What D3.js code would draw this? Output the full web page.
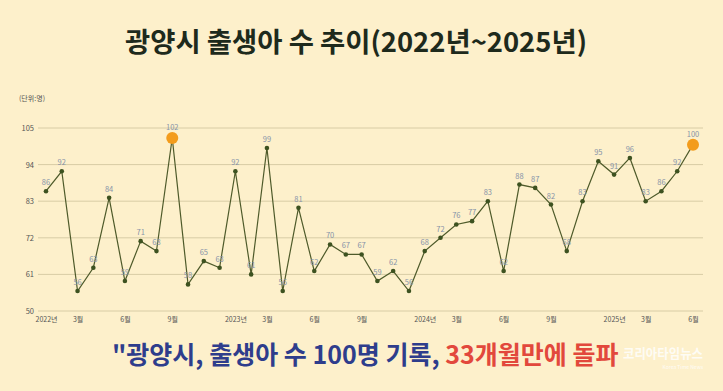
<!DOCTYPE html>
<html><head><meta charset="utf-8">
<script src="https://cdn.jsdelivr.net/npm/d3@7"></script>
<style>
html,body{margin:0;padding:0;background:#fdf0cb;}
svg{display:block;}
</style></head>
<body>
<svg id="c" width="723" height="391"></svg>
<script>
const months = ["2022-01","2022-02","2022-03","2022-04","2022-05","2022-06","2022-07","2022-08","2022-09","2022-10","2022-11","2022-12",
"2023-01","2023-02","2023-03","2023-04","2023-05","2023-06","2023-07","2023-08","2023-09","2023-10","2023-11","2023-12",
"2024-01","2024-02","2024-03","2024-04","2024-05","2024-06","2024-07","2024-08","2024-09","2024-10","2024-11","2024-12",
"2025-01","2025-02","2025-03","2025-04","2025-05","2025-06"];
const births = [86,92,56,63,84,59,71,68,102,58,65,63,
92,61,99,56,81,62,70,67,67,59,62,56,
68,72,76,77,83,62,88,87,82,68,83,95,
91,96,83,86,92,100];
const highlightMonths = ["2022-09","2025-06"];
const yTicks = [50,61,72,83,94,105];
const xTickMonths = ["2022-01","2022-03","2022-06","2022-09","2023-01","2023-03","2023-06","2023-09","2024-01","2024-03","2024-06","2024-09","2025-01","2025-03","2025-06"];
const xTickLabels = ["2022년","3월","6월","9월","2023년","3월","6월","9월","2024년","3월","6월","9월","2025년","3월","6월"];
const title = "광양시 출생아 수 추이(2022년~2025년)";
const unitLabel = "(단위:명)";
const subtitleA = "\"광양시, 출생아 수 100명 기록, ";
const subtitleB = "33개월만에 돌파";
const watermark = "코리아타임뉴스";
const watermarkSub = "Korea Time News";

const svg = d3.select("#c");
const font = "'Noto Sans CJK KR','Noto Sans',sans-serif";

const x = d3.scalePoint().domain(months).range([46, 693]);
const y = d3.scaleLinear().domain([50,105]).range([311,128]);

// title
svg.append("text").attr("x",125).attr("y",52)
  .attr("font-family",font).attr("font-weight",700).attr("font-size",27)
  .attr("textLength",462).attr("lengthAdjust","spacingAndGlyphs")
  .attr("fill","#1e2a1c").text(title);

// unit
svg.append("text").attr("x",19).attr("y",101).attr("font-family",font)
  .attr("font-size",7).attr("fill","#555").text(unitLabel);

// grid
const g = svg.append("g");
g.selectAll("line.grid").data(yTicks).join("line").attr("class","grid")
  .attr("x1",38).attr("x2",703).attr("y1",d=>y(d)).attr("y2",d=>y(d))
  .attr("stroke","#d8cca5").attr("stroke-width",1);
g.selectAll("text.yl").data(yTicks).join("text").attr("class","yl")
  .attr("x",34).attr("y",d=>y(d)+3).attr("text-anchor","end")
  .attr("font-family",font).attr("font-size",7.5).attr("fill","#555").text(d=>d);

// x labels
const xAxis = d3.axisBottom(x).tickValues(xTickMonths).tickSize(0)
  .tickFormat((d,i)=>xTickLabels[i]);
const xa = svg.append("g").attr("transform","translate(0,314)").call(xAxis);
xa.select(".domain").remove();
xa.selectAll("text").attr("font-family",font).attr("font-size",7).attr("fill","#555");

// line
const data = months.map((m,i)=>({m, v:births[i]}));
svg.append("path").datum(data)
  .attr("d", d3.line().x(d=>x(d.m)).y(d=>y(d.v)))
  .attr("fill","none").attr("stroke","#4e5a2a").attr("stroke-width",1.2);

// points
svg.selectAll("circle.pt").data(data).join("circle").attr("class","pt")
  .attr("cx",d=>x(d.m)).attr("cy",d=>y(d.v))
  .attr("r",d=>highlightMonths.includes(d.m)?6:2.3)
  .attr("fill",d=>highlightMonths.includes(d.m)?"#f39c1c":"#3d5220");

// value labels
svg.selectAll("text.vl").data(data).join("text").attr("class","vl")
  .attr("x",d=>x(d.m)).attr("y",d=>y(d.v)-(highlightMonths.includes(d.m)?8:6))
  .attr("text-anchor","middle").attr("font-family",font).attr("font-size",7.5)
  .attr("fill","#8793a8").text(d=>d.v);

// subtitle
const st = svg.append("text").attr("x",112).attr("y",364)
  .attr("font-family",font).attr("font-weight",700).attr("font-size",25);
st.append("tspan").attr("fill","#2e3d8c").text(subtitleA);
st.append("tspan").attr("fill","#e2483c").text(subtitleB);

// watermark
svg.append("text").attr("x",703).attr("y",358).attr("text-anchor","end")
  .attr("font-family",font).attr("font-weight",700).attr("font-size",13)
  .attr("textLength",80).attr("lengthAdjust","spacingAndGlyphs")
  .attr("fill","#ffffff").attr("opacity",0.8).text(watermark);
svg.append("text").attr("x",703).attr("y",369).attr("text-anchor","end")
  .attr("font-family",font).attr("font-size",5)
  .attr("fill","#ffffff").attr("opacity",0.85).text(watermarkSub);
</script>
</body></html>
